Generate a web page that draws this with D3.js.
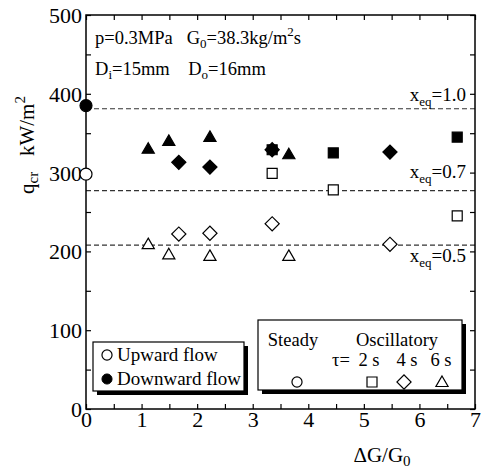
<!DOCTYPE html>
<html><head><meta charset="utf-8">
<script src="https://cdn.jsdelivr.net/npm/d3@7"></script>
<style>body{margin:0;background:#fff}svg{display:block}svg text{font-family:"Liberation Serif","Times New Roman",serif !important;fill:#000}</style>
</head><body><svg id="c" width="484" height="469"></svg>
<script>
// ---- data ----
const xTicks = [0,1,2,3,4,5,6,7];
const yTicks = [0,100,200,300,400,500];
const steadyUpX = [0], steadyUpQ = [298];
const steadyDownX = [0], steadyDownQ = [385];
const tau2UpX = [3.35,4.45,6.68], tau2UpQ = [299,278,245];
const tau2DownX = [3.35,4.45,6.68], tau2DownQ = [329,325,345];
const tau4UpX = [1.67,2.23,3.35,5.47], tau4UpQ = [222,223,235,209];
const tau4DownX = [1.67,2.23,3.35,5.47], tau4DownQ = [313,307,329,326];
const tau6UpX = [1.12,1.49,2.23,3.65], tau6UpQ = [208,195,193,193];
const tau6DownX = [1.12,1.49,2.23,3.65], tau6DownQ = [329,339,344,322];
const xeqValues = [1.0,0.7,0.5];
const xeqQ = [381,277,208];

const svg = d3.select("#c");
const x = d3.scaleLinear().domain([0,7]).range([86,475]);
const y = d3.scaleLinear().domain([0,500]).range([409,15]);
const FONT = '"Liberation Serif","Times New Roman",serif';

// dashed lines
xeqQ.forEach(q=>{
  svg.append("line").attr("x1",x(0)).attr("x2",x(7)).attr("y1",y(q)).attr("y2",y(q))
    .attr("stroke","#333").attr("stroke-width",1.2).attr("stroke-dasharray","5,3");
});
// x_eq labels
const lblOff = [ -8, -13, 17 ];
xeqValues.forEach((v,i)=>{
  const t = svg.append("text").attr("x",466).attr("y",y(xeqQ[i])+lblOff[i]).attr("text-anchor","end").attr("font-size",19);
  t.append("tspan").text("x");
  t.append("tspan").attr("font-size",13).attr("dy",5).text("eq");
  t.append("tspan").attr("dy",-5).text("="+v.toFixed(1));
});

// axes (ticks inward)
const minorX = d3.range(0,7.01,0.5), minorY = d3.range(0,500.1,50);
const fmtX = d=> xTicks.includes(d)? d : "";
const fmtY = d=> yTicks.includes(d)? d : "";
const gb = svg.append("g").attr("transform","translate(0,409)")
  .call(d3.axisBottom(x).tickValues(minorX).tickSize(-5).tickPadding(2).tickFormat(fmtX));
const gt = svg.append("g").attr("transform","translate(0,15)")
  .call(d3.axisTop(x).tickValues(minorX).tickSize(-5).tickFormat(""));
const gl = svg.append("g").attr("transform","translate(86,0)")
  .call(d3.axisLeft(y).tickValues(minorY).tickSize(-5).tickPadding(4).tickFormat(fmtY));
const gr = svg.append("g").attr("transform","translate(475,0)")
  .call(d3.axisRight(y).tickValues(minorY).tickSize(-5).tickFormat(""));
[gb,gt,gl,gr].forEach(g=>{
  g.attr("font-family",FONT).attr("font-size",22);
  g.select(".domain").remove();
  g.selectAll(".tick line").attr("stroke","#000").attr("stroke-width",1.2);
  g.selectAll("text").style("font-family",FONT).style("font-size","22px").style("fill","#000");
});
gb.selectAll("text").attr("dy","0.72em");
gl.selectAll("text").attr("dy","0.34em");
svg.append("rect").attr("x",86).attr("y",15).attr("width",389).attr("height",394)
  .attr("fill","none").attr("stroke","#000").attr("stroke-width",1.5);

// annotation
const a1 = svg.append("text").attr("x",95).attr("y",44).attr("font-size",18.5).style("white-space","pre");
a1.append("tspan").text("p=0.3MPa   G");
a1.append("tspan").attr("font-size",13).attr("dy",4).text("0");
a1.append("tspan").attr("dy",-4).text("=38.3kg/m");
a1.append("tspan").attr("font-size",13).attr("dy",-8).text("2");
a1.append("tspan").attr("dy",8).text("s");
const a2 = svg.append("text").attr("x",95).attr("y",75).attr("font-size",18.5).style("white-space","pre");
a2.append("tspan").text("D");
a2.append("tspan").attr("font-size",13).attr("dy",4).text("i");
a2.append("tspan").attr("dy",-4).text("=15mm    D");
a2.append("tspan").attr("font-size",13).attr("dy",4).text("o");
a2.append("tspan").attr("dy",-4).text("=16mm");

// markers
const sq = d3.symbol().type(d3.symbolSquare).size(100)();
const tri = d3.symbol().type(d3.symbolTriangle).size(64)();
const circ = d3.symbol().type(d3.symbolCircle).size(113)();
function draw(xs, qs, path, filled, rot){
  svg.append("g").selectAll("path").data(xs.map((v,i)=>[v,qs[i]])).join("path")
    .attr("d",path)
    .attr("transform",d=>`translate(${x(d[0])},${y(d[1])})`+(rot?" rotate(45)":""))
    .attr("fill",filled?"#000":"#fff").attr("stroke","#000").attr("stroke-width",1.2);
}
draw(steadyUpX,steadyUpQ,circ,false);
draw(steadyDownX,steadyDownQ,circ,true);
draw(tau2UpX,tau2UpQ,sq,false);
draw(tau4UpX,tau4UpQ,sq,false,true);
draw(tau6UpX,tau6UpQ,tri,false);
draw(tau2DownX,tau2DownQ,sq,true);
draw(tau4DownX,tau4DownQ,sq,true,true);
draw(tau6DownX,tau6DownQ,tri,true);

// legends
function box(x0,y0,w,h){
  svg.append("rect").attr("x",x0+4).attr("y",y0+4).attr("width",w).attr("height",h).attr("fill","#000");
  svg.append("rect").attr("x",x0).attr("y",y0).attr("width",w).attr("height",h).attr("fill","#fff").attr("stroke","#000").attr("stroke-width",1.2);
}
box(93,342,151,49);
const smallC = d3.symbol().type(d3.symbolCircle).size(80)();
svg.append("path").attr("d",smallC).attr("transform","translate(107,355)").attr("fill","#fff").attr("stroke","#000").attr("stroke-width",1.2);
svg.append("path").attr("d",smallC).attr("transform","translate(107,379)").attr("fill","#000").attr("stroke","#000");
svg.append("text").attr("x",117).attr("y",361).attr("font-size",19).text("Upward flow");
svg.append("text").attr("x",117).attr("y",385).attr("font-size",19).text("Downward flow");

box(258,320,204,70);
svg.append("text").attr("x",293).attr("y",346).attr("font-size",18.5).attr("text-anchor","middle").text("Steady");
svg.append("text").attr("x",397).attr("y",346).attr("font-size",18.5).attr("text-anchor","middle").text("Oscillatory");
svg.append("text").attr("x",332).attr("y",366).attr("font-size",18.5).text("τ=");
svg.append("text").attr("x",369).attr("y",366).attr("font-size",18.5).attr("text-anchor","middle").text("2 s");
svg.append("text").attr("x",407).attr("y",366).attr("font-size",18.5).attr("text-anchor","middle").text("4 s");
svg.append("text").attr("x",441).attr("y",366).attr("font-size",18.5).attr("text-anchor","middle").text("6 s");
const lsq = d3.symbol().type(d3.symbolSquare).size(100)();
const ltri = d3.symbol().type(d3.symbolTriangle).size(64)();
svg.append("path").attr("d",smallC).attr("transform","translate(297,382)").attr("fill","#fff").attr("stroke","#000").attr("stroke-width",1.2);
svg.append("path").attr("d",lsq).attr("transform","translate(372,382)").attr("fill","#fff").attr("stroke","#000").attr("stroke-width",1.2);
svg.append("path").attr("d",d3.symbol().type(d3.symbolSquare).size(100)()).attr("transform","translate(404,382) rotate(45)").attr("fill","#fff").attr("stroke","#000").attr("stroke-width",1.2);
svg.append("path").attr("d",ltri).attr("transform","translate(442,383)").attr("fill","#fff").attr("stroke","#000").attr("stroke-width",1.2);

// axis titles
const xt = svg.append("text").attr("x",382).attr("y",462).attr("font-size",21).attr("text-anchor","middle");
xt.append("tspan").text("ΔG/G");
xt.append("tspan").attr("font-size",15).attr("dy",4).text("0");
const yt = svg.append("text").attr("transform","translate(34,145) rotate(-90)").attr("font-size",21).attr("text-anchor","middle").style("white-space","pre");
yt.append("tspan").text("q");
yt.append("tspan").attr("font-size",15).attr("dy",4).text("cr");
yt.append("tspan").attr("dy",-4).text("   kW/m");
yt.append("tspan").attr("font-size",15).attr("dy",-9).text("2");
</script></body></html>
